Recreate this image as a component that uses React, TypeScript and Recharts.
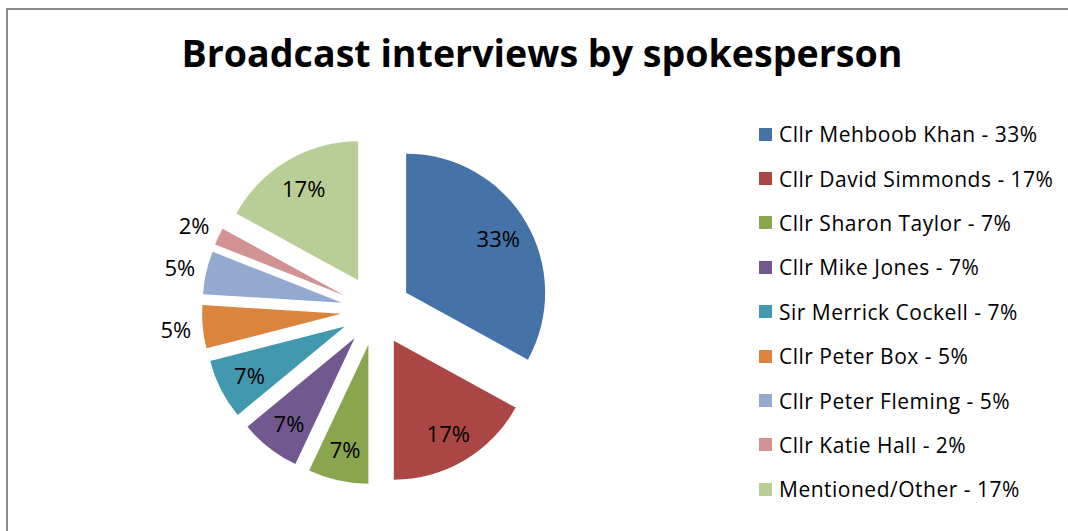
import { PieChart, Pie, Cell, Sector } from 'recharts'

const names = [
  'Cllr Mehboob Khan',
  'Cllr David Simmonds',
  'Cllr Sharon Taylor',
  'Cllr Mike Jones',
  'Sir Merrick Cockell',
  'Cllr Peter Box',
  'Cllr Peter Fleming',
  'Cllr Katie Hall',
  'Mentioned/Other',
]
const shares = [33, 17, 7, 7, 7, 5, 5, 2, 17]
const colors = [
  '#4572A7', '#AA4643', '#89A54E', '#71588F', '#4198AF',
  '#DB843D', '#93A9CF', '#D19392', '#B9CD96',
]

const data = names.map((name, i) => ({ name, value: shares[i] }))

const RADIAN = Math.PI / 180
const EXPLODE = 35
const FONT = '"Open Sans", sans-serif'

const polar = (cx: number, cy: number, r: number, angle: number) => ({
  x: cx + r * Math.cos(-angle * RADIAN),
  y: cy + r * Math.sin(-angle * RADIAN),
})

// every slice pulled out from the centre along its mid angle
const ExplodedSlice = (props: any) => {
  const { cx, cy, midAngle } = props
  const p = polar(cx, cy, EXPLODE, midAngle)
  return <Sector {...props} cx={p.x} cy={p.y} stroke="none" />
}

const renderLabel = (props: any) => {
  const { cx, cy, midAngle, percent, outerRadius } = props
  const outside = percent < 0.06
  const r = outside ? outerRadius + 62 : EXPLODE + outerRadius * 0.77
  const p = polar(cx, cy, r, midAngle)
  return (
    <text
      x={p.x}
      y={p.y}
      textAnchor="middle"
      dominantBaseline="central"
      fill="#000"
      fontSize={22}
      fontFamily={FONT}
    >
      {`${Math.round(percent * 100)}%`}
    </text>
  )
}

const SideLegend = () => (
  <ul style={{ position: 'absolute', left: 759, top: 112, listStyle: 'none', margin: 0, padding: 0 }}>
    {names.map((name, i) => (
      <li
        key={name}
        style={{ height: 44.4, display: 'flex', alignItems: 'center', fontFamily: FONT, fontSize: 21, letterSpacing: 0.5, color: '#000', whiteSpace: 'nowrap' }}
      >
        <span style={{ width: 13, height: 13, background: colors[i], marginRight: 7, display: 'inline-block' }} />
        {`${name} - ${shares[i]}%`}
      </li>
    ))}
  </ul>
)

export default function App() {
  return (
    <div style={{ position: 'absolute', left: 0, top: 0, width: 1068, height: 531, overflow: 'hidden', background: '#fff' }}>
      <div style={{ position: 'absolute', left: 6, top: 8, width: 1100, height: 600, border: '2px solid #8a8a8a', boxSizing: 'border-box' }} />
      <svg width={1068} height={100} style={{ position: 'absolute', left: 0, top: 0 }}>
        <text
          x={542}
          y={67}
          textAnchor="middle"
          fontFamily={FONT}
          fontWeight="bold"
          fontSize={37}
          textLength={721}
          lengthAdjust="spacingAndGlyphs"
          fill="#000"
        >
          Broadcast interviews by spokesperson
        </text>
      </svg>
      <div style={{ position: 'absolute', left: 0, top: 0 }}>
        <PieChart width={1068} height={531} margin={{ top: 0, right: 0, bottom: 0, left: 0 }}>
          <Pie
            data={data}
            dataKey="value"
            nameKey="name"
            cx={376}
            cy={310.5}
            outerRadius={139}
            startAngle={90}
            endAngle={-270}
            stroke="none"
            shape={ExplodedSlice}
            label={renderLabel}
            labelLine={false}
            isAnimationActive={false}
          >
            {data.map((d, i) => (
              <Cell key={d.name} fill={colors[i]} />
            ))}
          </Pie>
        </PieChart>
      </div>
      <SideLegend />
    </div>
  )
}
